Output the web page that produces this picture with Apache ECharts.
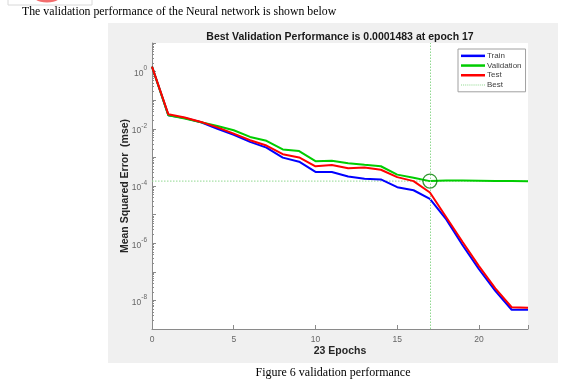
<!DOCTYPE html>
<html><head><meta charset="utf-8">
<script src="https://cdn.jsdelivr.net/npm/echarts@6/dist/echarts.min.js"></script>
<style>html,body{margin:0;padding:0;background:#fff}#c{width:565px;height:385px}</style>
</head><body><div id="c"></div>
<script>
const epochs = [0,1,2,3,4,5,6,7,8,9,10,11,12,13,14,15,16,17,18,19,20,21,22,23];
const train = [1.5,0.030,0.024,0.017,0.010,0.0062,0.0035,0.0022,9.8e-4,7.1e-4,3.1e-4,3.1e-4,2.14e-4,1.78e-4,1.7e-4,9.1e-5,7.1e-5,3.55e-5,6.8e-6,8.5e-7,1.23e-7,2.14e-8,4.7e-9,4.7e-9];
const validation = [1.5,0.0295,0.023,0.017,0.0126,0.0089,0.0052,0.0038,1.9e-3,1.66e-3,7.4e-4,7.6e-4,6.3e-4,5.5e-4,4.9e-4,2.5e-4,1.95e-4,1.483e-4,1.55e-4,1.55e-4,1.53e-4,1.51e-4,1.5e-4,1.48e-4];
const test = [1.5,0.032,0.025,0.0174,0.0112,0.0068,0.0040,0.0026,1.29e-3,1.0e-3,4.9e-4,5.4e-4,4.2e-4,4.4e-4,3.7e-4,2.04e-4,1.48e-4,5.9e-5,8.1e-6,1.1e-6,1.58e-7,2.63e-8,5.75e-9,5.5e-9];
const bestEpoch = 17;
const bestValue = 1.483e-4;
const xRange = [0, 23];
const xTicks = [0,5,10,15,20];
const titleText = 'Best Validation Performance is 0.0001483 at epoch 17';
const introText = 'The validation performance of the Neural network is shown below';
const captionText = 'Figure 6 validation performance';

const pair = arr => epochs.map((e,i)=>[e,arr[i]]);
const chart = echarts.init(document.getElementById('c'), null, {renderer:'canvas'});
const axisGray = '#8a8a8a';
const bestColor = '#8fd88f';
const dotPath = 'path://M0,0h1v1h-1z M2,0h1v1h-1z M4,0h1v1h-1z M6,0h1v1h-1z M8,0h1v1h-1z M10,0h1v1h-1z M12,0h1v1h-1z M14,0h1v1h-1z M16,0h1v1h-1z M18,0h1v1h-1z M20,0h1v1h-1z M22,0h1v1h-1z';
chart.setOption({
  animation:false,
  backgroundColor:'#ffffff',
  graphic:[
    {type:'rect', z:-10, shape:{x:108,y:23,width:450,height:340}, style:{fill:'#f0f0f0'}},
    {type:'rect', z:-9, shape:{x:152,y:43,width:376,height:286}, style:{fill:'#ffffff'}},
    {type:'rect', shape:{x:8,y:-6,width:84,height:11}, style:{fill:'#fff',stroke:'#d8d8d8',lineWidth:1}},
    {type:'ellipse', shape:{cx:47,cy:-2,rx:12,ry:4.5}, style:{fill:'#f26d6d'}},
    {type:'text', style:{x:22,y:12,text:introText,font:'11.8px "Liberation Serif"',fill:'#000',verticalAlign:'middle'}},
    {type:'text', style:{x:333,y:373,text:captionText,font:'12px "Liberation Serif"',fill:'#000',align:'center',verticalAlign:'middle'}}
  ],
  title:{text:titleText,left:340,top:32,padding:0,textAlign:'center',
    textStyle:{fontFamily:'Liberation Sans',fontSize:10.5,fontWeight:'bold',color:'#1a1a1a'}},
  legend:{
    orient:'vertical', left:458, top:49, itemWidth:24, itemHeight:2.5, itemGap:0,
    padding:[2,4,2,3], backgroundColor:'#fff', borderColor:'#a0a0a0', borderWidth:1,
    textStyle:{fontFamily:'Liberation Sans',fontSize:8,color:'#404040',padding:[0,0,0,-3],lineHeight:9.7},
    data:[
      {name:'Train',icon:'rect'},
      {name:'Validation',icon:'rect'},
      {name:'Test',icon:'rect'},
      {name:'Best',icon:dotPath}
    ]
  },
  grid:{left:152,right:37,top:43,bottom:56},
  xAxis:{type:'value',min:xRange[0],max:xRange[1],interval:5,
    name:'23 Epochs',nameLocation:'middle',nameGap:17,nameMoveOverlap:false,
    nameTextStyle:{fontFamily:'Liberation Sans',fontSize:10.5,fontWeight:'bold',color:'#262626'},
    axisLine:{lineStyle:{color:axisGray}},
    axisTick:{inside:true,length:4,lineStyle:{color:axisGray}},
    axisLabel:{fontFamily:'Liberation Sans',fontSize:8.5,color:'#666',margin:6,
      formatter:v=>xTicks.includes(v)?String(v):''},
    splitLine:{show:false}},
  yAxis:{type:'log',logBase:10,min:1e-9,max:10,interval:1,
    name:'Mean Squared Error  (mse)',nameLocation:'middle',nameGap:21,nameMoveOverlap:false,
    nameTextStyle:{fontFamily:'Liberation Sans',fontSize:10.5,fontWeight:'bold',color:'#262626'},
    axisLine:{show:true,lineStyle:{color:axisGray}},
    axisTick:{inside:true,length:4,lineStyle:{color:axisGray}},
    minorTick:{show:true,splitNumber:9,length:2,lineStyle:{color:axisGray}},
    splitLine:{show:false},
    axisLabel:{margin:5,
      formatter:v=>{const e=Math.round(Math.log10(v)); if(e%2!==0||e>0) return ''; return '{b|10}{s|'+e+'}';},
      rich:{b:{fontFamily:'Liberation Sans',fontSize:8.5,color:'#666',lineHeight:13,verticalAlign:'bottom'},
            s:{fontFamily:'Liberation Sans',fontSize:6.5,color:'#666',lineHeight:13,verticalAlign:'top'}}}},
  series:[
    {name:'Best',type:'line',data:xRange.map(x=>[x,bestValue]),symbol:'none',
      lineStyle:{color:bestColor,width:1,type:[1.5,1.5]},itemStyle:{color:bestColor},z:2,
      markLine:{silent:true,symbol:'none',label:{show:false},
        lineStyle:{color:bestColor,width:1,type:[1.5,1.5]},
        data:[{xAxis:bestEpoch}]}},
    {name:'Train',type:'line',data:pair(train),symbol:'none',lineStyle:{color:'#0000ff',width:2},itemStyle:{color:'#0000ff'},z:3},
    {name:'Validation',type:'line',data:pair(validation),symbol:'none',lineStyle:{color:'#00cc00',width:2},itemStyle:{color:'#00cc00'},z:4},
    {name:'Test',type:'line',data:pair(test),symbol:'none',lineStyle:{color:'#ff0000',width:2},itemStyle:{color:'#ff0000'},z:5},
    {name:'BestPoint',type:'scatter',data:[[bestEpoch,bestValue]],symbol:'circle',symbolSize:14,
      itemStyle:{color:'rgba(0,0,0,0)',borderColor:'#008000',borderWidth:1.3},z:6}
  ]
});
</script></body></html>
